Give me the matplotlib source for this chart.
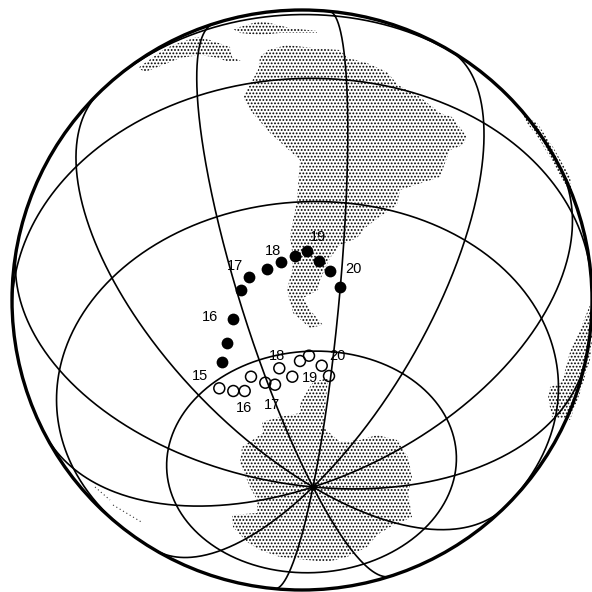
# Orthographic globe with two tracks of dated positions near the south pole

import numpy as np
import matplotlib
matplotlib.use('Agg')
import matplotlib.pyplot as plt
from matplotlib.patches import Polygon

plt.rcParams['font.family'] = ['Liberation Sans', 'DejaVu Sans']
plt.rcParams['hatch.linewidth'] = 0.85

# Positions, in picture pixels :

track_filled_x = [222.3, 227.3, 233.3, 241, 249, 266.7, 281, 295.3, 306.7, 318.7, 330, 339.7]
track_filled_y = [362.3, 343.3, 319.3, 290, 277.3, 269, 261.7, 255.7, 250.7, 260.7, 270.7, 286.7]

track_open_x = [219.3, 233.3, 244.7, 251, 265.3, 275, 279.3, 292.3, 300, 309, 321.7, 329]
track_open_y = [388.3, 391, 391, 376.7, 382.7, 384.7, 368.3, 376.7, 361, 355.7, 365.7, 376]

label_text = ['15', '16', '17', '18', '19', '20', '16', '17', '18', '19', '20']
label_x = [200, 210, 235, 273, 318, 353, 244, 272, 277, 310, 337]
label_y = [376, 317, 266, 251, 237, 269, 408, 405, 356, 378, 356]

# Land outlines :

south_america = [(268, 50), (287, 45), (313, 48), (340, 50), (348, 58), (367, 63), (387, 72),
                 (398, 85), (420, 97), (440, 113), (452, 117), (467, 137), (463, 145), (450, 150),
                 (445, 163), (440, 177), (400, 190), (397, 205), (378, 218), (365, 228), (357, 238),
                 (340, 245), (330, 258), (320, 280), (318, 290), (303, 298), (310, 310), (323, 325),
                 (310, 328), (293, 313), (287, 290), (292, 270), (293, 258), (290, 237), (297, 200),
                 (300, 160), (270, 133), (250, 110), (243, 97), (258, 70), (260, 57)]
north_strip = [(138, 68), (163, 50), (173, 45), (197, 37), (210, 40), (230, 47), (232, 57),
               (243, 62), (230, 62), (213, 57), (200, 55), (180, 58), (163, 65), (145, 72)]
top_specks = [(233, 29), (260, 21), (270, 23), (290, 28), (317, 31), (317, 33), (280, 33),
              (260, 35), (240, 33)]
antarctica = [(313, 382), (328, 378), (326, 400), (323, 427), (340, 442), (360, 440), (377, 435),
              (397, 440), (408, 457), (412, 477), (408, 493), (412, 517), (390, 527), (377, 535),
              (367, 547), (347, 557), (327, 562), (307, 560), (280, 557), (260, 550), (247, 542),
              (233, 527), (232, 515), (257, 513), (257, 500), (250, 487), (240, 463), (242, 447),
              (263, 433), (262, 422), (280, 417), (300, 413), (300, 403)]
limb_strip = [(523, 115), (537, 123), (553, 147), (570, 177), (573, 197), (557, 170), (540, 140),
              (527, 123)]
africa_edge = [(590, 305), (580, 330), (570, 352), (562, 382), (550, 387), (548, 398), (552, 417),
               (570, 420), (580, 393), (590, 360), (593, 330)]
land = [south_america, north_strip, top_specks, antarctica, limb_strip, africa_edge]

speck_lines = [[(95, 487), (110, 500)], [(113, 505), (143, 523)]]

# Globe geometry :

cx, cy, radius = 302, 300, 290
pole_x, pole_y = 313, 487
anchor_x, anchor_y = 346, 203       # a point on one of the meridians


def to_sphere(x, y):
    vx = (x - cx) / radius
    vy = (cy - y) / radius
    return np.array([vx, vy, np.sqrt(1 - vx**2 - vy**2)])


pole = to_sphere(pole_x, pole_y)
e1 = to_sphere(anchor_x, anchor_y)
e1 = e1 - e1.dot(pole) * pole
e1 = e1 / np.linalg.norm(e1)
e2 = np.cross(pole, e1)


def sphere_line(colat, lon):
    # front hemisphere only, the far side is left as gaps
    v = (np.cos(colat)[:, None] * pole
         + np.sin(colat)[:, None] * (np.cos(lon)[:, None] * e1 + np.sin(lon)[:, None] * e2))
    x = cx + radius * v[:, 0]
    y = cy - radius * v[:, 1]
    x[v[:, 2] < 0] = np.nan
    return x, y


fig = plt.figure(figsize=(5.92, 5.92), dpi=100)
ax = fig.add_axes([0, 0, 1, 1])
ax.set_xlim(0, 592)
ax.set_ylim(592, 0)
ax.axis('off')

# Land :

for outline in land:
    ax.add_patch(Polygon(outline, closed=True, fill=False, edgecolor='black',
                         hatch='.....', linewidth=0, antialiased=False, zorder=1))
for seg in speck_lines:
    xs, ys = zip(*seg)
    ax.plot(xs, ys, color='#333333', lw=0.8, ls=(0, (1, 2.5)), zorder=1)

# Graticule :

t = np.linspace(0, 2 * np.pi, 721)
s = np.linspace(0, np.pi, 361)
for deg in range(30, 151, 30):
    x, y = sphere_line(np.full_like(t, np.radians(deg)), t)
    ax.plot(x, y, color='black', lw=1.2, zorder=2)
for deg in range(0, 360, 30):
    x, y = sphere_line(s, np.full_like(s, np.radians(deg)))
    ax.plot(x, y, color='black', lw=1.2, zorder=2)

ax.add_patch(plt.Circle((cx, cy), radius, fill=False, color='black', lw=2.4, zorder=3))
ax.scatter([pole_x], [pole_y], s=22, color='black', linewidths=0, zorder=3)

# Tracks and labels :

ax.scatter(track_filled_x, track_filled_y, s=72, color='black', linewidths=0, zorder=4)
ax.scatter(track_open_x, track_open_y, s=62, facecolors='none', edgecolors='black',
           linewidths=1.1, zorder=4)
for txt, x, y in zip(label_text, label_x, label_y):
    ax.text(x, y, txt, fontsize=10.5, ha='center', va='center', color='black', zorder=5)

fig.savefig('out.png', dpi=100)
